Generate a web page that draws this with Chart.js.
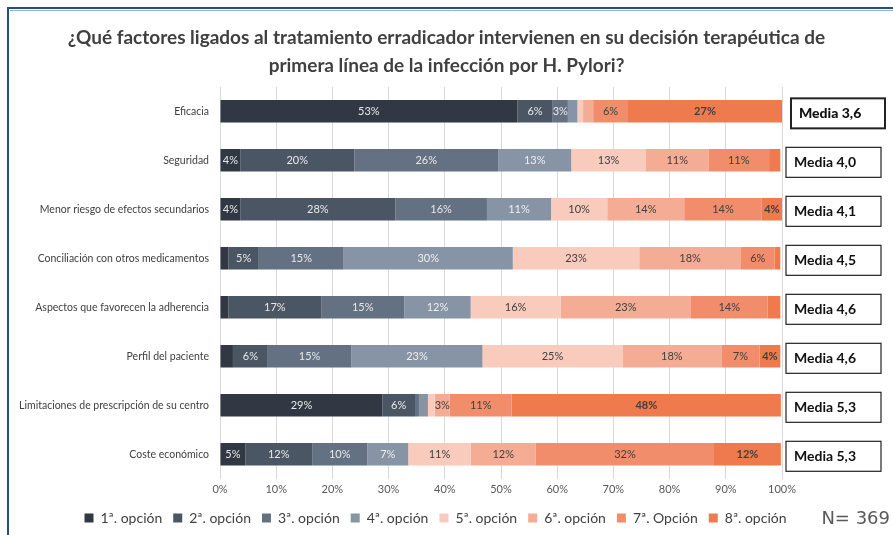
<!DOCTYPE html>
<html>
<head>
<meta charset="utf-8">
<script src="https://cdn.jsdelivr.net/npm/chart.js@4"></script>
<style>
  html, body { margin: 0; padding: 0; background: #fff; }
  #wrap { width: 893px; height: 535px; position: relative; }
</style>
</head>
<body>
<div id="wrap"><canvas id="chart"></canvas></div>
<script>
const categories = [
  'Eficacia',
  'Seguridad',
  'Menor riesgo de efectos secundarios',
  'Conciliación con otros medicamentos',
  'Aspectos que favorecen la adherencia',
  'Perfil del paciente',
  'Limitaciones de prescripción de su centro',
  'Coste económico'
];
const seriesNames = ['1ª. opción', '2ª. opción', '3ª. opción', '4ª. opción', '5ª. opción', '6ª. opción', '7ª. Opción', '8ª. opción'];

// % de respuestas por opción (una lista por opción, en el orden de categories)
const opcion1 = [52.9, 3.6, 3.6, 1.5, 1.5, 2.3, 28.9, 4.5];
const opcion2 = [6.3, 20.3, 27.6, 5.4, 16.5, 6.2, 5.8, 11.9];
const opcion3 = [2.7, 25.6, 16.3, 15.1, 14.8, 14.9, 0.7, 9.8];
const opcion4 = [1.7, 13.0, 11.4, 30.1, 11.8, 23.3, 1.6, 7.3];
const opcion5 = [1.0, 13.3, 10.0, 22.5, 16.0, 24.9, 1.2, 11.1];
const opcion6 = [1.8, 11.1, 13.7, 18.1, 23.2, 17.6, 2.7, 11.6];
const opcion7 = [6.2, 10.8, 13.8, 6.0, 13.6, 6.8, 11.0, 31.7];
const opcion8 = [27.4, 2.0, 3.6, 1.0, 2.3, 3.7, 47.9, 11.9];
const seriesValues = [opcion1, opcion2, opcion3, opcion4, opcion5, opcion6, opcion7, opcion8];

const medias = ['Media 3,6', 'Media 4,0', 'Media 4,1', 'Media 4,5', 'Media 4,6', 'Media 4,6', 'Media 5,3', 'Media 5,3'];
const xTicks = [0, 10, 20, 30, 40, 50, 60, 70, 80, 90, 100];
const titleLines = ['¿Qué factores ligados al tratamiento erradicador intervienen en su decisión terapéutica de', 'primera línea de la infección por H. Pylori?'];
const nTotal = 'N= 369';

const colors = ['#313843', '#4b5665', '#647183', '#8794a5', '#f9cbbc', '#f5ac94', '#f18d6b', '#ef7a4e'];
const labelColors = ['#e8e8e8', '#e8e8e8', '#e8e8e8', '#eeeeee', '#404040', '#404040', '#404040', '#404040'];
const FONT = 'Lato, "Noto Sans", sans-serif';

// etiquetas de porcentaje dentro de las barras
const segmentLabels = {
  id: 'segmentLabels',
  afterDatasetsDraw(chart) {
    const ctx = chart.ctx;
    ctx.save();
    ctx.textAlign = 'center';
    ctx.textBaseline = 'middle';
    chart.data.datasets.forEach((ds, i) => {
      const meta = chart.getDatasetMeta(i);
      meta.data.forEach((bar, j) => {
        const v = ds.data[j];
        if (v < 2.5) return;
        ctx.fillStyle = labelColors[i];
        ctx.font = (i === 7 ? 'bold ' : '') + '11px ' + FONT;
        ctx.fillText(Math.round(v) + '%', (bar.x + bar.base) / 2, bar.y + 0.5);
      });
    });
    ctx.restore();
  }
};

// cajas "Media" a la derecha, marco azul y N
const extras = {
  id: 'extras',
  afterLayout(chart) {
    chart.legend.left -= 11;
    chart.legend.right -= 11;
  },
  afterDraw(chart) {
    const ctx = chart.ctx;
    const ys = chart.scales.y;
    const right = chart.chartArea.right;
    ctx.save();
    // marco
    ctx.strokeStyle = '#2a4d7a';
    ctx.lineWidth = 2;
    ctx.beginPath();
    ctx.moveTo(8, 535);
    ctx.lineTo(8, 8);
    ctx.lineTo(893, 8);
    ctx.stroke();
    ctx.strokeStyle = '#8fb0d6';
    ctx.lineWidth = 1;
    ctx.beginPath();
    ctx.moveTo(10, 10.5);
    ctx.lineTo(893, 10.5);
    ctx.stroke();

    medias.forEach((m, j) => {
      const cy = ys.getPixelForValue(j) + 2;
      const first = j === 0;
      const x0 = right + (first ? 9 : 4);
      const w = first ? 94 : 95;
      ctx.strokeStyle = '#222';
      ctx.lineWidth = first ? 2 : 1.2;
      ctx.fillStyle = '#fff';
      ctx.fillRect(x0, cy - 15, w, 30);
      ctx.strokeRect(x0, cy - 15, w, 30);
      ctx.fillStyle = '#111';
      ctx.font = (first ? '900 ' : 'bold ') + '14px ' + FONT;
      ctx.textAlign = 'left';
      ctx.textBaseline = 'middle';
      ctx.fillText(m, x0 + 8, cy);
    });

    ctx.fillStyle = '#595959';
    ctx.font = '18px "DejaVu Sans", sans-serif';
    ctx.textAlign = 'right';
    ctx.textBaseline = 'middle';
    ctx.fillText(nTotal, 890, 519);
    ctx.restore();
  }
};

new Chart(document.getElementById('chart'), {
  type: 'bar',
  data: {
    labels: categories,
    datasets: seriesValues.map((vals, i) => ({
      label: seriesNames[i],
      data: vals,
      backgroundColor: colors[i],
      borderWidth: 0,
      barPercentage: 0.46,
      categoryPercentage: 1
    }))
  },
  options: {
    indexAxis: 'y',
    responsive: true,
    maintainAspectRatio: false,
    animation: false,
    layout: { padding: { top: 0, left: 0, right: 0, bottom: 0 } },
    plugins: {
      title: {
        display: true,
        text: titleLines,
        color: '#404040',
        font: { family: FONT, size: 19, weight: 'bold', lineHeight: 1.47 },
        padding: { top: 24, bottom: 7 }
      },
      legend: {
        position: 'bottom',
        labels: {
          boxWidth: 9,
          boxHeight: 9,
          padding: 11,
          color: '#404040',
          font: { family: FONT, size: 14 }
        }
      },
      tooltip: { enabled: false }
    },
    scales: {
      x: {
        stacked: true,
        min: 0,
        max: 100,
        grid: { color: '#d9d9d9', drawTicks: false },
        border: { display: false },
        afterBuildTicks: s => { s.ticks = xTicks.map(v => ({ value: v })); },
        ticks: {
          padding: 4,
          color: '#595959',
          font: { family: FONT, size: 11 },
          callback: v => v + '%'
        }
      },
      y: {
        stacked: true,
        grid: { display: false, drawTicks: false },
        border: { display: false },
        afterFit: s => { s.width = 220; },
        ticks: {
          padding: 11,
          color: '#404040',
          font: { family: FONT, size: 10.5 }
        }
      },
      yRight: {
        position: 'right',
        type: 'linear',
        grid: { display: false, drawTicks: false },
        border: { display: false },
        ticks: { display: false },
        afterFit: s => { s.width = 111; }
      }
    }
  },
  plugins: [segmentLabels, extras]
});
</script>
</body>
</html>
